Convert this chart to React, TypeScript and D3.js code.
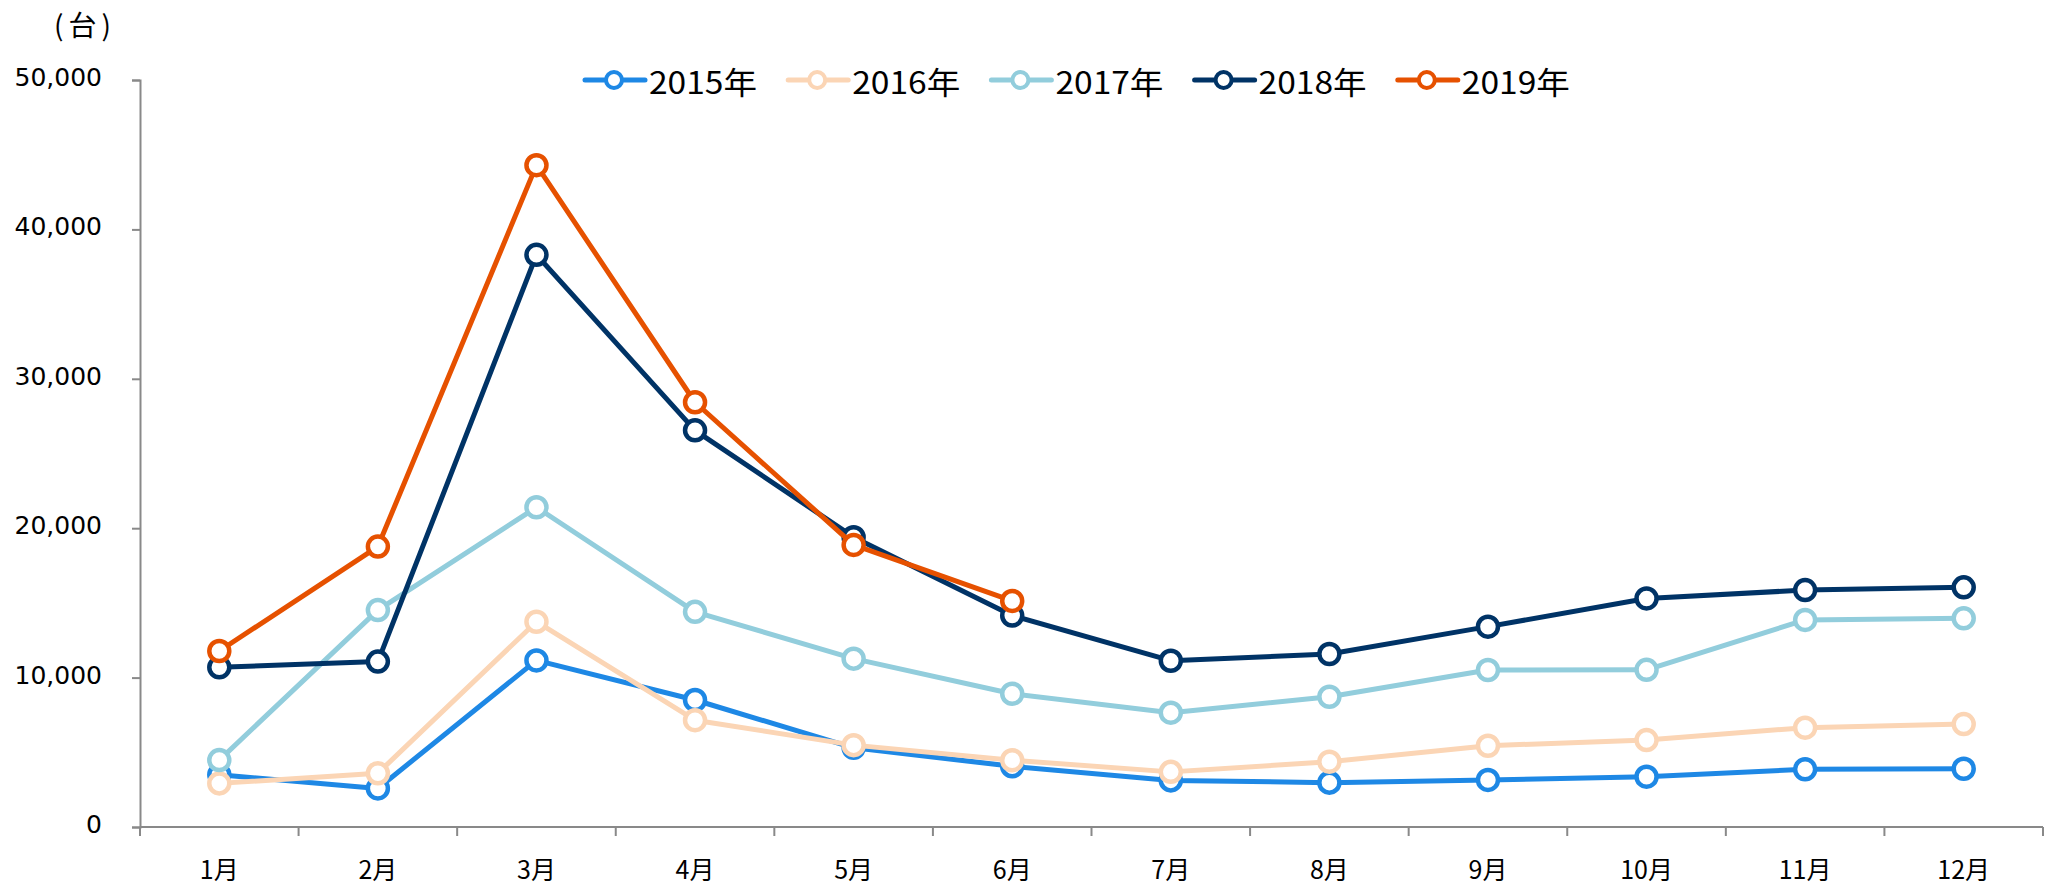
import { useEffect, useRef } from "react";
import * as d3 from "d3";

const months = ["1月", "2月", "3月", "4月", "5月", "6月", "7月", "8月", "9月", "10月", "11月", "12月"];
const yTicks = [0, 10000, 20000, 30000, 40000, 50000];

const years = ["2015年", "2016年", "2017年", "2018年", "2019年"];
const colors = ["#1E88E5", "#FBD5B5", "#92CDDC", "#003366", "#E65100"];

const v2015 = [3500, 2580, 11150, 8500, 5300, 4060, 3120, 2970, 3150, 3370, 3860, 3900];
const v2016 = [2920, 3600, 13740, 7150, 5480, 4470, 3690, 4370, 5440, 5820, 6650, 6890];
const v2017 = [4480, 14520, 21400, 14400, 11270, 8920, 7650, 8720, 10510, 10520, 13860, 13970];
const v2018 = [10690, 11070, 38300, 26550, 19400, 14150, 11130, 11580, 13410, 15300, 15860, 16040];
const v2019 = [11780, 18770, 44300, 28430, 18880, 15130];

const seriesValues = [v2015, v2016, v2017, v2018, v2019];

const W = 2055;
const H = 886;
const JP = "'Noto Sans CJK JP', 'Noto Sans', sans-serif";

export default function App() {
  const ref = useRef<SVGSVGElement>(null);

  useEffect(() => {
    if (!ref.current) return;
    const margin = { top: 80, right: 12, bottom: 59, left: 140 };
    const innerWidth = W - margin.left - margin.right;
    const innerHeight = H - margin.top - margin.bottom;

    d3.select(ref.current).selectAll("*").remove();
    const root = d3.select(ref.current).attr("width", W).attr("height", H);
    const svg = root.append("g").attr("transform", `translate(${margin.left},${margin.top})`);

    const x = d3.scaleBand<string>().domain(months).range([0, innerWidth]);
    const y = d3.scaleLinear().domain([0, 50000]).range([innerHeight, 0]);

    // y axis
    const yAxis = svg
      .append("g")
      .call(d3.axisLeft(y).tickValues(yTicks).tickFormat(d3.format(",")).tickSize(8).tickPadding(30));
    yAxis.select(".domain").attr("stroke", "#898989").attr("stroke-width", 2);
    yAxis.selectAll(".tick line").attr("stroke", "#898989").attr("stroke-width", 2);
    yAxis
      .selectAll("text")
      .attr("fill", "#000")
      .attr("dy", "0.22em")
      .style("font-family", "'DejaVu Sans', Verdana, sans-serif")
      .style("font-size", "25px");

    // x axis
    const xAxis = svg.append("g").attr("transform", `translate(0,${innerHeight})`);
    xAxis
      .append("line")
      .attr("x1", 0)
      .attr("x2", innerWidth)
      .attr("stroke", "#898989")
      .attr("stroke-width", 2);
    const bounds = months.map((m) => x(m) ?? 0).concat([innerWidth]);
    xAxis
      .selectAll("line.tk")
      .data(bounds)
      .join("line")
      .attr("class", "tk")
      .attr("x1", (d) => d)
      .attr("x2", (d) => d)
      .attr("y1", 0)
      .attr("y2", 9)
      .attr("stroke", "#898989")
      .attr("stroke-width", 2);
    xAxis
      .selectAll("text")
      .data(months)
      .join("text")
      .attr("x", (d) => (x(d) ?? 0) + x.bandwidth() / 2)
      .attr("y", 41)
      .attr("dominant-baseline", "central")
      .attr("text-anchor", "middle")
      .style("font-family", JP)
      .style("font-size", "25px")
      .text((d) => d);

    const line = d3
      .line<number>()
      .x((_, i) => (x(months[i]) ?? 0) + x.bandwidth() / 2)
      .y((d) => y(d));

    seriesValues.forEach((vals, si) => {
      const g = svg.append("g");
      g.append("path")
        .datum(vals)
        .attr("fill", "none")
        .attr("stroke", colors[si])
        .attr("stroke-width", 5)
        .attr("stroke-linejoin", "round")
        .attr("d", line);
      g.selectAll("circle")
        .data(vals)
        .join("circle")
        .attr("cx", (_, i) => (x(months[i]) ?? 0) + x.bandwidth() / 2)
        .attr("cy", (d) => y(d))
        .attr("r", 10)
        .attr("fill", "#fff")
        .attr("stroke", colors[si])
        .attr("stroke-width", 4.5);
    });

    // unit label
    root
      .append("text")
      .attr("x", 85)
      .attr("y", 24)
      .attr("text-anchor", "middle")
      .attr("dominant-baseline", "central")
      .style("font-family", JP)
      .style("font-size", "28px")
      .style("letter-spacing", "5px")
      .text("(台)");

    // legend
    const legend = root.append("g").attr("transform", "translate(585,80)");
    years.forEach((yr, i) => {
      const item = legend.append("g").attr("transform", `translate(${i * 203.2},0)`);
      item
        .append("line")
        .attr("x1", 0)
        .attr("x2", 60)
        .attr("stroke", colors[i])
        .attr("stroke-width", 5)
        .attr("stroke-linecap", "round");
      item
        .append("circle")
        .attr("cx", 29)
        .attr("r", 8)
        .attr("fill", "#fff")
        .attr("stroke", colors[i])
        .attr("stroke-width", 4);
      item
        .append("text")
        .attr("x", 64)
        .attr("dominant-baseline", "central")
        .attr("textLength", 108)
        .attr("lengthAdjust", "spacingAndGlyphs")
        .style("font-family", JP)
        .style("font-size", "31px")
        .text(yr);
    });
  }, []);

  return <svg ref={ref} style={{ position: "absolute", left: 0, top: 0, background: "#fff" }} />;
}
